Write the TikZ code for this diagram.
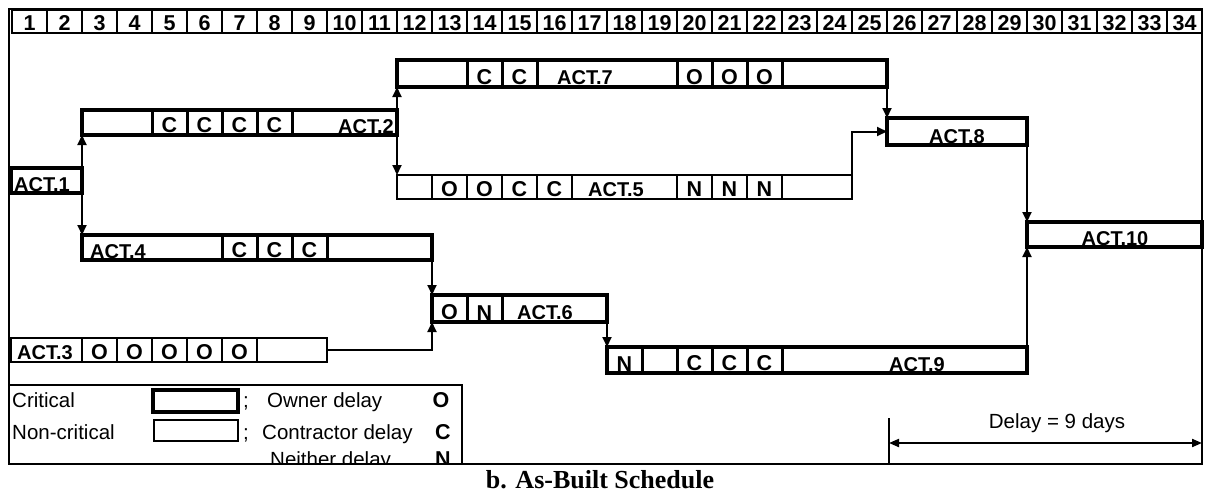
\documentclass[tikz,border=0pt]{standalone}
\usepackage{fontspec}
\setmainfont{Liberation Sans}
\newfontfamily\bsans{Liberation Sans}
\newfontfamily\rsans{Liberation Sans}
\newfontfamily\capserif{Liberation Serif}
\usetikzlibrary{arrows.meta}
\begin{document}
\begin{tikzpicture}[x=1pt,y=-1pt,
  crit/.style={draw,line width=4pt,rectangle,inner sep=0pt,outer sep=0pt,anchor=north west},
  ncrit/.style={draw,line width=1.6pt,rectangle,inner sep=0pt,outer sep=0pt,anchor=north west},
  csep/.style={line width=3pt},
  nsep/.style={line width=1.6pt},
  lbl/.style={inner sep=0pt,anchor=base,font=\bsans\bfseries\fontsize{20pt}{22pt}\selectfont},
  dly/.style={inner sep=0pt,anchor=base,font=\bsans\bfseries\fontsize{21.5pt}{22pt}\selectfont},
  hdr/.style={inner sep=0pt,anchor=base,font=\bsans\bfseries\fontsize{21.5pt}{22pt}\selectfont},
  txt/.style={inner sep=0pt,anchor=base west,font=\rsans\fontsize{20.5pt}{22pt}\selectfont},
  hcell/.style={draw,line width=1.3pt,rectangle,inner sep=0pt,outer sep=0pt,anchor=north west,minimum width=35pt,minimum height=23pt},
  arr/.style={line width=2pt,-{Triangle[length=10pt,width=9pt]}},
  frame/.style={line width=2.5pt}
]
\fill[white] (0,0) rectangle (1205,493);
\useasboundingbox (0,0) rectangle (1205,493);

% header
\foreach \k in {1,...,34}{
  \node[hcell] (h\k) at ({12+35*(\k-1)},10) {};
  \node[hdr] (n\k) at ({12+35*(\k-0.5)},30) {\k};
}

% bars
\node[crit,minimum width=71pt,minimum height=25pt] (a1) at (11,168) {};
\node[crit,minimum width=315pt,minimum height=25pt] (a2) at (82,110) {};
\node[crit,minimum width=490pt,minimum height=27pt] (a7) at (397,60) {};
\node[ncrit,minimum width=455pt,minimum height=24pt] (a5) at (397,175) {};
\node[crit,minimum width=140pt,minimum height=27pt] (a8) at (887,118) {};
\node[crit,minimum width=175pt,minimum height=25pt] (a10) at (1027,222) {};
\node[crit,minimum width=350pt,minimum height=25pt] (a4) at (82,235) {};
\node[crit,minimum width=175pt,minimum height=27pt] (a6) at (432,295) {};
\node[ncrit,minimum width=316pt,minimum height=24pt] (a3) at (11,338) {};
\node[crit,minimum width=420pt,minimum height=26pt] (a9) at (607,347) {};

% separators
\foreach \x in {152,187,222,257,292}{\draw[csep] (\x,110) -- (\x,135);}
\foreach \x in {467,502,537,677,712,747,782}{\draw[csep] (\x,60) -- (\x,87);}
\foreach \x in {432,467,502,537,572,677,712,747,782}{\draw[nsep] (\x,175) -- (\x,199);}
\foreach \x in {222,257,292,327}{\draw[csep] (\x,235) -- (\x,260);}
\foreach \x in {467,502}{\draw[csep] (\x,295) -- (\x,322);}
\foreach \x in {82,117,152,187,222,257}{\draw[nsep] (\x,338) -- (\x,362);}
\foreach \x in {642,677,712,747,782}{\draw[csep] (\x,347) -- (\x,373);}

% labels
\node[lbl,anchor=base west] (l1) at (14,191) {ACT.1};
\node[lbl,anchor=base east] (l2) at (394,133) {ACT.2};
\node[lbl,anchor=base west] (l7) at (557,84) {ACT.7};
\node[lbl,anchor=base west] (l5) at (588,196) {ACT.5};
\node[lbl] (l8) at (957,143) {ACT.8};
\node[lbl] (l10) at (1115,245) {ACT.10};
\node[lbl,anchor=base west] (l4) at (90,258) {ACT.4};
\node[lbl,anchor=base west] (l6) at (517,319) {ACT.6};
\node[lbl,anchor=base west] (l3) at (17,359) {ACT.3};
\node[lbl,anchor=base west] (l9) at (889,371) {ACT.9};

% delay letters
\foreach \x [count=\i] in {169.5,204.5,239.5,274.5}{\node[dly] (c2\i) at (\x,132) {C};}
\foreach \x [count=\i] in {484.5,519.5}{\node[dly] (c7\i) at (\x,84) {C};}
\foreach \x [count=\i] in {694.5,729.5,764.5}{\node[dly] (o7\i) at (\x,84) {O};}
\foreach \x [count=\i] in {449.5,484.5}{\node[dly] (o5\i) at (\x,196) {O};}
\foreach \x [count=\i] in {519.5,554.5}{\node[dly] (c5\i) at (\x,196) {C};}
\foreach \x [count=\i] in {694.5,729.5,764.5}{\node[dly] (n5\i) at (\x,196) {N};}
\foreach \x [count=\i] in {239.5,274.5,309.5}{\node[dly] (c4\i) at (\x,257) {C};}
\node[dly] (o61) at (449.5,319) {O};
\node[dly] (n61) at (484.5,320) {N};
\foreach \x [count=\i] in {99.5,134.5,169.5,204.5,239.5}{\node[dly] (o3\i) at (\x,359) {O};}
\node[dly] (n91) at (624.5,371) {N};
\foreach \x [count=\i] in {694.5,729.5,764.5}{\node[dly] (c9\i) at (\x,370) {C};}

% connectors
\draw[arr] (a1.north east) -- (a2.south west);
\draw[arr] (a1.south east) -- (a4.north west);
\draw[arr] (a2.north east) -- (a7.south west);
\draw[arr] (a2.south east) -- (a5.north west);
\draw[arr] (a7.south east) -- (a8.north west);
\draw[arr] (a5.north east) |- (a8.west);
\draw[arr] (a8.south east) -- (a10.north west);
\draw[arr] (a4.south east) -- (a6.north west);
\draw[arr] (a3.east) -| (a6.south west);
\draw[arr] (a6.south east) -- (a9.north west);
\draw[arr] (a9.north east) -- (a10.south west);

% legend
\node[txt] (t1) at (12,407) {Critical};
\node[crit,minimum width=85pt,minimum height=22pt] (k1) at (153,390) {};
\node[txt] (s1) at (243,407) {;};
\node[txt] (t2) at (267,407) {Owner delay};
\node[dly] (k2) at (441,407) {O};
\node[txt] (t3) at (12,439) {Non-critical};
\node[ncrit,minimum width=84pt,minimum height=21pt] (k3) at (154,420) {};
\node[txt] (s2) at (243,439) {;};
\node[txt] (t4) at (262,439) {Contractor delay};
\node[dly] (k4) at (443,439) {C};
\node[txt] (t5) at (270,466) {Neither delay};
\node[dly] (k5) at (443,466) {N};
\fill[white] (9,465) rectangle (1205,475);
\draw[line width=2pt] (9,385) -- (462,385) -- (462,464);

% delay arrow
\coordinate (d0) at (889,418);
\coordinate (d1) at (889,443);
\coordinate (d2) at (1202,443);
\coordinate (d3) at (889,464);
\draw[line width=1.6pt] (d0) -- (d3);
\draw[line width=2pt,{Triangle[length=10pt,width=8pt]}-{Triangle[length=10pt,width=8pt]}] (d1) -- (d2);
\node[txt,anchor=base] (dl) at (1057,428) {Delay = 9 days};

% frame
\draw[frame] (9,9) rectangle (1202,464);

% caption
\node[inner sep=0pt,anchor=base,font=\capserif\bfseries\fontsize{26pt}{28pt}\selectfont] (cap) at (600,488) {b. As-Built Schedule};
\end{tikzpicture}
\end{document}
